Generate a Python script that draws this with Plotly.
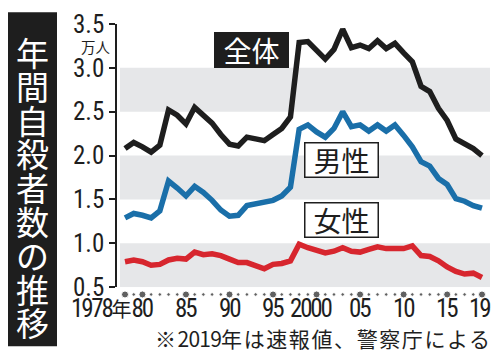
import plotly.graph_objects as go

# ---- data (万人) ----
years = list(range(1978, 2020))
total = [2.08, 2.15, 2.10, 2.04, 2.12, 2.52, 2.46, 2.36, 2.55, 2.45,
         2.37, 2.24, 2.13, 2.11, 2.21, 2.19, 2.17, 2.24, 2.31, 2.44,
         3.29, 3.30, 3.20, 3.10, 3.21, 3.44, 3.23, 3.26, 3.22, 3.31,
         3.22, 3.28, 3.17, 3.07, 2.79, 2.73, 2.54, 2.40, 2.19, 2.13,
         2.08, 2.00]
male = [1.29, 1.34, 1.32, 1.29, 1.37, 1.71, 1.63, 1.54, 1.65, 1.58,
        1.49, 1.38, 1.31, 1.32, 1.43, 1.45, 1.46, 1.49, 1.54, 1.64,
        2.30, 2.35, 2.27, 2.21, 2.31, 2.50, 2.33, 2.35, 2.28, 2.35,
        2.28, 2.35, 2.23, 2.10, 1.93, 1.88, 1.74, 1.67, 1.51, 1.48,
        1.43, 1.40]
female = [0.79, 0.81, 0.79, 0.75, 0.76, 0.81, 0.83, 0.82, 0.90, 0.87,
          0.88, 0.86, 0.82, 0.78, 0.78, 0.74, 0.71, 0.76, 0.77, 0.80,
          0.99, 0.95, 0.92, 0.89, 0.91, 0.95, 0.91, 0.90, 0.93, 0.96,
          0.94, 0.94, 0.94, 0.97, 0.86, 0.85, 0.80, 0.73, 0.68, 0.65,
          0.66, 0.61]
series_names = ["全体", "男性", "女性"]
ytick_vals = [0.5, 1.0, 1.5, 2.0, 2.5, 3.0, 3.5]
ytick_text = ["0.5", "1.0", "1.5", "2.0", "2.5", "3.0", "3.5"]
xlabel_years = [1985, 1990, 1995, 2000, 2005, 2010, 2015, 2019]
xlabel_text = ["85", "90", "95", "2000", "05", "10", "15", "19"]
big_dot_years = [1978, 1980, 1985, 1990, 1995, 2000, 2005, 2010, 2015, 2019]
bands = [(0.5, 1.0), (1.5, 2.0), (2.5, 3.0)]
title_text = "年間自殺者数の推移"
unit_text = "万人"
note_parts = ("※", "2019", "年は速報値、警察庁による")

NUM_FONT = "Roboto Condensed, Liberation Sans Narrow, Liberation Sans, Arial"
JP_FONT = "Noto Sans CJK JP"
INK = "#1e1e1e"

# plot-area geometry (pixels)
W, H = 500, 356
L, R, T, B = 117, 10, 20, 56
PW, PH = W - L - R, H - T - B
AXIS_BOTTOM = 287          # pixel row of y = 0.5
MAIN_D0 = (H - B - AXIS_BOTTOM) / PH


def px(xp):
    return (xp - L) / PW


def py(yp):
    return (H - B - yp) / PH


def spaced(s, sp=-2.2):
    return f"<span style='letter-spacing:{sp}px'>{s}</span>"


fig = go.Figure()

colors = {"全体": INK, "男性": "#1a6fa9", "女性": "#d7262e"}
for name, vals in zip(series_names, [total, male, female]):
    fig.add_trace(go.Scatter(x=years, y=vals, mode="lines", name=name,
                             line=dict(color=colors[name], width=5.5),
                             hoverinfo="skip"))

# axis dots on a thin strip axis below the main axis
fig.add_trace(go.Scatter(
    x=years, y=[0.5] * len(years), mode="markers", yaxis="y2",
    cliponaxis=False,
    marker=dict(color=INK,
                size=[7 if y in big_dot_years else 3.5 for y in years]),
    hoverinfo="skip"))

for y0, y1 in bands:
    fig.add_shape(type="rect", xref="paper", yref="y", x0=0.008, x1=1,
                  y0=y0, y1=y1, fillcolor="#e6e7e9", line_width=0,
                  layer="below")

# title column: one text block, line pitch from the 26px base size,
# glyphs drawn at 33px
fig.add_shape(type="rect", xref="paper", yref="paper",
              x0=px(8), x1=px(57), y0=py(347), y1=py(8),
              fillcolor=INK, line_width=0)
title_html = "<br>".join(f"<span style='font-size:33px'>{c}</span>" for c in title_text)
fig.add_annotation(text=title_html, xref="paper", yref="paper",
                   x=px(32.5), y=py(185), showarrow=False,
                   font=dict(family=JP_FONT, size=26, color="white"),
                   xanchor="center", yanchor="middle", align="center")

# series label boxes
label_pos = {"全体": (1992.5, 3.20), "男性": (2002.9, 1.955), "女性": (2002.9, 1.27)}
for name in series_names:
    xx, yy = label_pos[name]
    dark = name == "全体"
    fig.add_annotation(text=name, x=xx, y=yy, xref="x", yref="y",
                       showarrow=False, width=70, height=31, borderpad=1,
                       bgcolor=INK if dark else "white",
                       bordercolor=INK, borderwidth=1.5,
                       font=dict(family=JP_FONT, size=28,
                                 color="white" if dark else INK))

# x labels
XL_Y = 308.5
for yr, t in zip(xlabel_years, xlabel_text):
    fig.add_annotation(text=spaced(t), x=yr, y=py(XL_Y), xref="x", yref="paper",
                       showarrow=False, xanchor="center", yanchor="middle",
                       xshift=-6.5 if t == "2000" else (-2 if t == "19" else 0),
                       font=dict(family=NUM_FONT, size=25, color=INK))
fig.add_annotation(text=spaced("1978") + "<span style='font-family:Noto Sans CJK JP;font-size:20px'>年</span>" + spaced("80"),
                   x=1980, y=py(XL_Y), xref="x", yref="paper",
                   showarrow=False, xanchor="right", yanchor="middle", xshift=13,
                   font=dict(family=NUM_FONT, size=25, color=INK))

fig.add_annotation(text=unit_text, xref="paper", yref="paper", x=px(96), y=py(43),
                   xanchor="center", yanchor="middle", showarrow=False,
                   font=dict(family=JP_FONT, size=14.5, color=INK))
note_html = (spaced(note_parts[0], 1.6) + spaced(note_parts[1], -0.8)
             + spaced(note_parts[2], 1.6))
fig.add_annotation(text=note_html, xref="paper", yref="paper", x=px(153), y=py(338.5),
                   xanchor="left", yanchor="middle", showarrow=False,
                   font=dict(family=JP_FONT, size=21, color=INK))

fig.update_layout(
    width=W, height=H, margin=dict(l=L, r=R, t=T, b=B),
    plot_bgcolor="white", paper_bgcolor="white", showlegend=False,
    xaxis=dict(range=[1977.08, 2019.92], showgrid=False, zeroline=False,
               showticklabels=False, ticks="", showline=False, fixedrange=True),
    yaxis=dict(domain=[MAIN_D0, 1], range=[0.5, 3.5], showgrid=False,
               zeroline=False, tickvals=ytick_vals, ticktext=ytick_text,
               ticks="outside", ticklen=6, tickwidth=1.5, tickcolor=INK,
               showline=True, linecolor=INK, linewidth=1.5,
               tickfont=dict(family=NUM_FONT, size=25, color=INK),
               fixedrange=True),
    yaxis2=dict(domain=[0, 0.04], range=[0, 1], visible=False,
                fixedrange=True),
)

fig.write_html("out.html", config={"displayModeBar": False},
               post_script="document.body.style.margin='0px';"
                           "document.body.style.overflow='hidden';")
